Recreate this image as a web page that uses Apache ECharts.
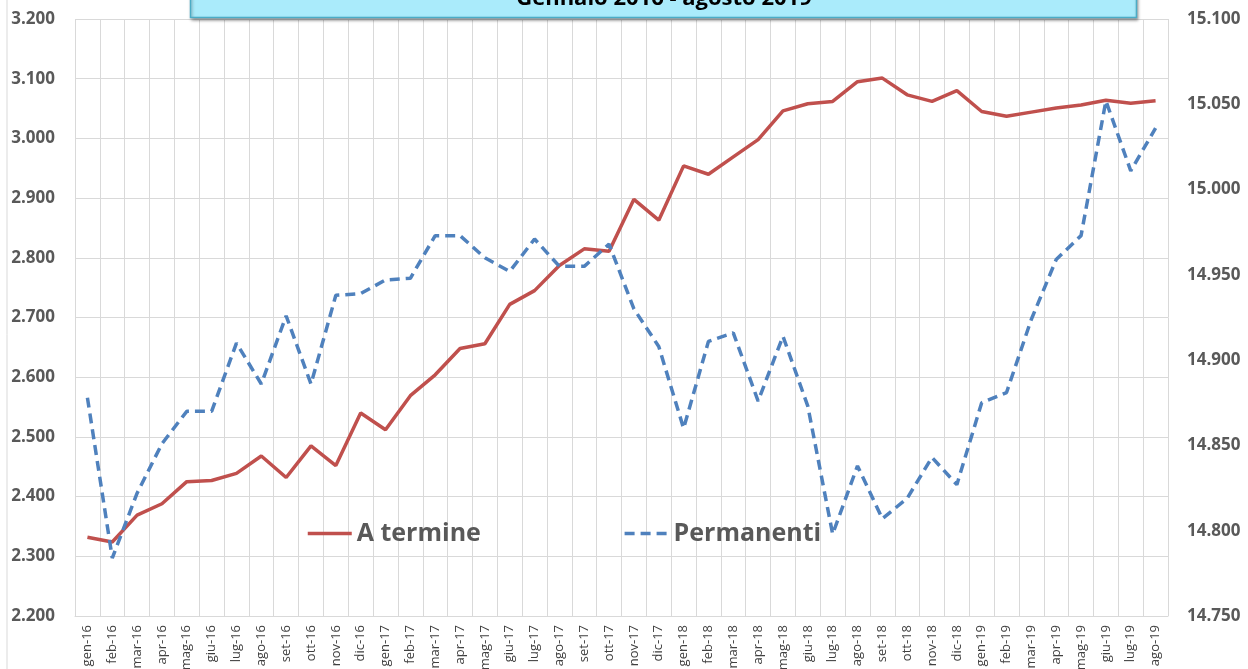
<!DOCTYPE html>
<html><head><meta charset="utf-8">
<script src="https://cdn.jsdelivr.net/npm/echarts@6/dist/echarts.min.js"></script>
<style>html,body{margin:0;padding:0;background:#fff}#c{width:1248px;height:669px}</style>
</head><body><div id="c"></div>
<script>
const months = ['gen-16','feb-16','mar-16','apr-16','mag-16','giu-16','lug-16','ago-16','set-16','ott-16','nov-16','dic-16',
'gen-17','feb-17','mar-17','apr-17','mag-17','giu-17','lug-17','ago-17','set-17','ott-17','nov-17','dic-17',
'gen-18','feb-18','mar-18','apr-18','mag-18','giu-18','lug-18','ago-18','set-18','ott-18','nov-18','dic-18',
'gen-19','feb-19','mar-19','apr-19','mag-19','giu-19','lug-19','ago-19'];
const aTermine = [2332,2324,2369,2388,2425,2427,2439,2468,2432,2485,2452,2540,
2512,2569,2604,2648,2656,2722,2745,2787,2815,2811,2898,2863,
2954,2940,2969,2998,3046,3058,3062,3095,3101,3073,3062,3080,
3045,3037,3044,3051,3056,3064,3059,3063];
const permanenti = [14878,14784,14822,14851,14870,14870,14910,14886,14926,14886,14938,14939,
14947,14948,14973,14973,14960,14952,14971,14955,14955,14968,14930,14908,
14860,14911,14916,14876,14914,14873,14798,14838,14807,14819,14843,14827,
14875,14881,14924,14959,14973,15052,15011,15036];
const seriesNames = ['A termine','Permanenti'];
const titleText = 'Gennaio 2016 - agosto 2019';

const fmt = v => { const s = Math.round(v).toString(); return s.replace(/\B(?=(\d{3})+(?!\d))/g, '.'); };
const chart = echarts.init(document.getElementById('c'));
chart.setOption({
  animation: false,
  backgroundColor: '#fff',
  grid: { left: 75, right: 80, top: 19, bottom: 53, containLabel: false, outerBoundsMode: 'none' },
  legend: {
    left: 306, top: 521, padding: 0, itemWidth: 44, itemHeight: 14, itemGap: 142,
    itemStyle: { opacity: 0 },
    lineStyle: { width: 3.5 },
    textStyle: { fontFamily: 'Open Sans', fontWeight: 'bold', fontSize: 25, color: '#595959' },
    data: seriesNames
  },
  xAxis: {
    type: 'category', data: months, boundaryGap: true,
    axisLine: { lineStyle: { color: '#D9D9D9' } },
    axisTick: { show: false },
    axisLabel: { rotate: 90, interval: 0, margin: 9, fontFamily: 'Open Sans', fontSize: 13, color: '#404040' },
    splitLine: { show: true, interval: 0, lineStyle: { color: '#D9D9D9', width: 1 } }
  },
  yAxis: [
    { type: 'value', min: 2200, max: 3200, interval: 100,
      axisLine: { show: false }, axisTick: { show: false },
      axisLabel: { margin: 20, formatter: fmt, fontFamily: 'Open Sans', fontWeight: 'bold', fontSize: 17, color: '#595959' },
      splitLine: { lineStyle: { color: '#D9D9D9', width: 1 } } },
    { type: 'value', min: 14750, max: 15100, interval: 50,
      axisLine: { show: false }, axisTick: { show: false },
      axisLabel: { margin: 19, formatter: fmt, fontFamily: 'Open Sans', fontWeight: 'bold', fontSize: 17, color: '#595959' },
      splitLine: { show: false } }
  ],
  series: [
    { name: seriesNames[0], type: 'line', yAxisIndex: 0, data: aTermine, symbol: 'none',
      itemStyle: { color: '#C0504D' }, lineStyle: { color: '#C0504D', width: 3.5 } },
    { name: seriesNames[1], type: 'line', yAxisIndex: 1, data: permanenti, symbol: 'none',
      itemStyle: { color: '#4F81BD' }, lineStyle: { color: '#4F81BD', width: 3.5, type: [10,6] } }
  ],
  graphic: [
    { type: 'rect', shape: { x: 7, y: -5, width: 1260, height: 700 }, style: { fill: 'none', stroke: '#D9D9D9', lineWidth: 1 }, z: 0, silent: true },
    { type: 'rect', shape: { x: 190.5, y: -12, width: 946, height: 29.5 },
      style: { fill: '#AAEBFB', stroke: '#4BACC6', lineWidth: 1.5, shadowBlur: 3, shadowOffsetX: 1, shadowOffsetY: 2, shadowColor: 'rgba(0,0,0,0.35)' }, z: 100 },
    { type: 'text', x: 664, y: 10, style: { text: titleText, fontFamily: 'Open Sans', fontWeight: 'bold', fontSize: 22, fill: '#000', align: 'center', verticalAlign: 'bottom' }, z: 101 }
  ]
});
</script></body></html>
